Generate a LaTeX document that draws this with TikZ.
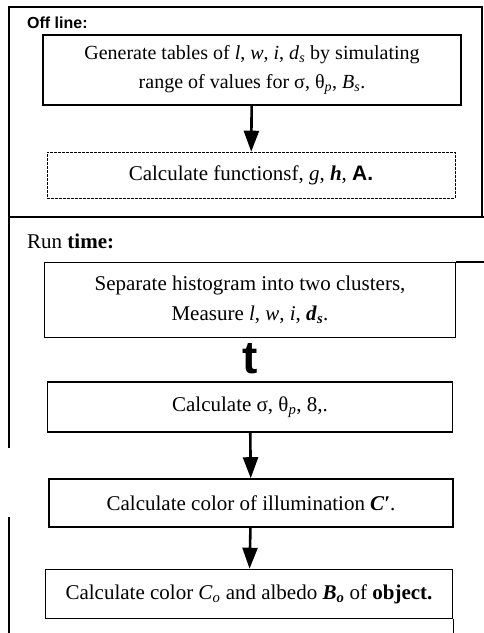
\documentclass[tikz,border=0pt]{standalone}
\usepackage{fontspec}
\setmainfont{Liberation Serif}
\setsansfont{Liberation Sans}
\usetikzlibrary{arrows.meta}

\begin{document}
\begin{tikzpicture}[x=1pt,y=-1pt]

    \tikzset{
      stage/.style={
        draw,
        line width=1.6pt,
        inner sep=0pt,
        align=center,
        font=\fontsize{21}{30}\selectfont,
      },
      sketchy/.style={
        stage,
        line width=0.6pt,
        dash pattern=on 3pt off 1pt,
      },
      frame/.style={line width=1.6pt},
      flow/.style={line width=2.6pt,-{Triangle[length=21pt,width=15pt]}},
      heading/.style={anchor=base west,inner sep=0pt},
    }
    \useasboundingbox (0,0) rectangle (484,633);
    % outer frame
    \draw[frame] (9,7) rectangle (482,217);
    \draw[frame] (9,217)--(484,217);
    \draw[frame] (9,217)--(9,448);
    \draw[frame] (9,517)--(9,633);

    % off line part
    \node[heading,font=\sffamily\bfseries\fontsize{16}{18}\selectfont] (offline) at (27,28) {Off line:};
    \node[stage,font=\fontsize{20}{29}\selectfont,minimum width=418,minimum height=70] (tables) at (252,70)
      {Generate tables of \textit{l}, \textit{w}, \textit{i}, \textit{d}\textsubscript{\textit{s}} by simulating\\
       range of values for σ, θ\textsubscript{\textit{p}}, \textit{B}\textsubscript{\textit{s}}.};
    \node[sketchy,minimum width=408,minimum height=46] (funcs) at (251,175)
      {Calculate functionsf, \textit{g}, \textbf{\textit{h}}, \textsf{\textbf{A.}}};

    % run time part
    \node[heading,font=\fontsize{21}{24}\selectfont] (runtime) at (27,248) {Run \textbf{time:}};
    \node[stage,minimum width=411,minimum height=75] (separate) at (250,300)
      {Separate histogram into two clusters,\\
       Measure \textit{l}, \textit{w}, \textit{i}, \textbf{\textit{d}}\textsubscript{\textbf{\textit{s}}}.};
    \node[font=\sffamily\bfseries\fontsize{46}{46}\selectfont,inner sep=0pt] (tmark) at (250,359) {t};
    \node[stage,minimum width=405,minimum height=50] (params) at (250,407)
      {Calculate σ, θ\textsubscript{\textit{p}}, 8,.};
    \node[stage,minimum width=404,minimum height=48] (illum) at (251,503)
      {Calculate color of illumination \textbf{\textit{C′}}.};
    \node[stage,minimum width=407,minimum height=49] (object) at (249,594)
      {Calculate color \textit{C}\textsubscript{\textit{o}} and albedo \textbf{\textit{B}}\textsubscript{\textbf{\textit{o}}} of \textbf{object.}};

    \draw[frame] (separate.north east)--++(28,0);
    \draw[frame] (object.south east)--++(0,15);

    \draw[flow] (tables)--(funcs);
    \draw[flow] (params)--(illum);
    \draw[flow] (illum)--(object);

\end{tikzpicture}
\end{document}
